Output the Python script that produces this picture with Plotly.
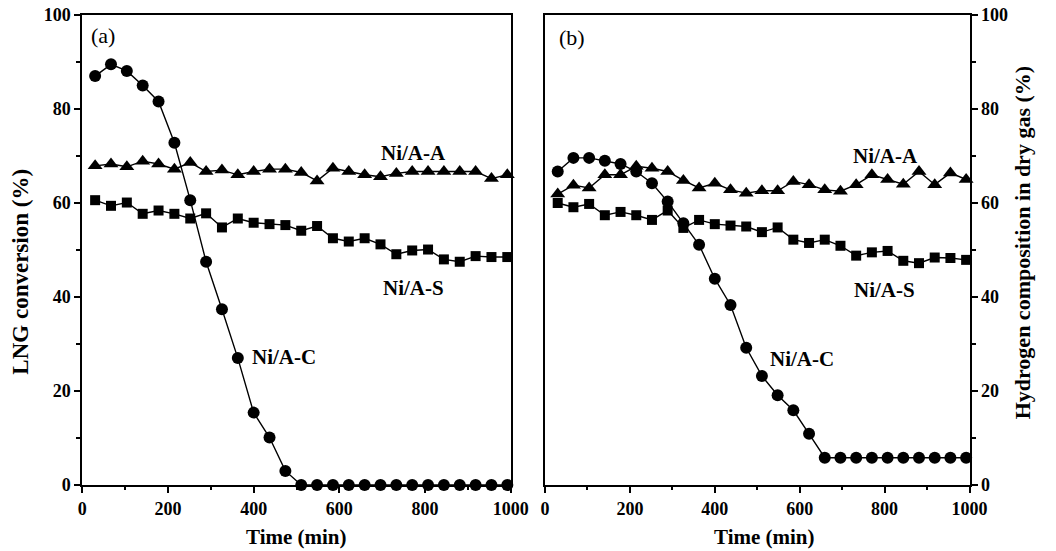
import plotly.graph_objects as go

# ---- data ----
time_min = [30, 67, 104, 141, 178, 215, 252, 289, 326, 363, 400, 437, 474, 511,
            548, 585, 622, 659, 696, 733, 770, 807, 844, 881, 918, 955, 992]

# (a) LNG conversion (%)
a_NiAC = [87.0, 89.5, 88.1, 85.0, 81.6, 72.8, 60.6, 47.5, 37.4, 27.0, 15.4, 10.1, 3.0, 0,
          0, 0, 0, 0, 0, 0, 0, 0, 0, 0, 0, 0, 0]
a_NiAA = [67.9, 68.3, 67.7, 68.9, 68.3, 67.2, 68.6, 66.7, 67.0, 66.0, 66.7, 67.2, 67.2, 66.5,
          64.7, 67.4, 66.7, 66.0, 65.6, 66.3, 66.7, 66.7, 66.7, 66.7, 66.7, 65.2, 66.0]
a_NiAS = [60.6, 59.4, 60.1, 57.7, 58.4, 57.7, 56.7, 57.8, 54.8, 56.7, 55.8, 55.5, 55.3, 54.1,
          55.1, 52.5, 51.8, 52.5, 51.2, 49.1, 49.9, 50.1, 48.0, 47.5, 48.7, 48.5, 48.5]

# (b) Hydrogen composition in dry gas (%)
b_NiAC = [66.7, 69.6, 69.6, 69.0, 68.3, 66.7, 64.2, 60.3, 55.7, 51.1, 43.9, 38.3, 29.2, 23.2,
          19.1, 15.9, 10.9, 5.8, 5.8, 5.8, 5.8, 5.8, 5.8, 5.8, 5.8, 5.8, 5.8]
b_NiAA = [61.9, 63.8, 63.2, 66.0, 66.0, 67.8, 67.4, 66.7, 64.8, 63.2, 64.2, 62.8, 62.1, 62.6,
          62.6, 64.6, 63.9, 62.8, 62.5, 63.9, 66.0, 65.0, 64.0, 66.7, 63.9, 66.4, 65.0]
b_NiAS = [60.0, 59.1, 59.8, 57.4, 58.1, 57.4, 56.4, 58.4, 54.7, 56.4, 55.5, 55.2, 55.0, 53.8,
          54.8, 52.2, 51.5, 52.2, 50.9, 48.8, 49.5, 49.8, 47.7, 47.2, 48.4, 48.3, 47.9]

x_ticks = [0, 200, 400, 600, 800, 1000]
y_ticks = [0, 20, 40, 60, 80, 100]

FONT = "Liberation Serif"
W, H = 1056, 551
TOP, BOT = 15, 485          # plot area top / bottom in pixels
PH = BOT - TOP

fig = go.Figure()

def add_series(y, sym, size, xa, ya):
    fig.add_trace(go.Scatter(
        x=time_min, y=y, mode="lines+markers", xaxis=xa, yaxis=ya,
        line=dict(color="black", width=1.4),
        marker=dict(symbol=sym, size=size, color="black"),
        cliponaxis=False, showlegend=False))

add_series(a_NiAA, "triangle-up", 13, "x", "y")
add_series(a_NiAS, "square", 10, "x", "y")
add_series(a_NiAC, "circle", 12, "x", "y")
add_series(b_NiAA, "triangle-up", 13, "x2", "y2")
add_series(b_NiAS, "square", 10, "x2", "y2")
add_series(b_NiAC, "circle", 12, "x2", "y2")

tickfont = dict(family=FONT, size=18, color="black", weight="bold")
common_x = dict(range=[0, 1000], tickvals=x_ticks, showline=True, linecolor="black",
                linewidth=2, mirror=True, ticks="outside", ticklen=6, tickwidth=1.5,
                tickcolor="black", showgrid=False, zeroline=False, tickfont=tickfont,
                minor=dict(tickvals=[100, 300, 500, 700, 900], ticks="outside",
                           ticklen=3, tickwidth=1.5, tickcolor="black", showgrid=False))
common_y = dict(range=[0, 100], tickvals=y_ticks, showline=True, linecolor="black",
                linewidth=2, mirror=True, ticks="outside", ticklen=6, tickwidth=1.5,
                tickcolor="black", showgrid=False, zeroline=False, tickfont=tickfont,
                minor=dict(tickvals=[10, 30, 50, 70, 90], ticks="outside",
                           ticklen=4, tickwidth=1.5, tickcolor="black", showgrid=False))

fig.update_layout(
    width=W, height=H, autosize=False,
    margin=dict(l=0, r=0, t=TOP, b=H - BOT),
    paper_bgcolor="white", plot_bgcolor="white",
    xaxis=dict(domain=[79 / W, 517 / W], anchor="y", **common_x),
    yaxis=dict(domain=[0, 1], anchor="x", **common_y),
    xaxis2=dict(domain=[552 / W, 986 / W], anchor="y2", **common_x),
    yaxis2=dict(domain=[0, 1], anchor="x2", side="right", **common_y),
)

ann = []
def lab(text, x, y, xref, yref, size=21, bold=True, xanchor="center"):
    ann.append(dict(text=f"<b>{text}</b>" if bold else text, x=x, y=y, xref=xref, yref=yref,
                    showarrow=False, xanchor=xanchor, yanchor="middle",
                    font=dict(family=FONT, size=size, color="black")))

lab("Ni/A-A", 772, 70.6, "x", "y")
lab("Ni/A-S", 772, 41.9, "x", "y")
lab("Ni/A-C", 391, 27.3, "x", "y", xanchor="left")
lab("(a)", 48, 95.7, "x", "y", size=22, bold=False)
lab("Ni/A-A", 802, 70.1, "x2", "y2")
lab("Ni/A-S", 800, 41.5, "x2", "y2")
lab("Ni/A-C", 525, 26.9, "x2", "y2", xanchor="left")
lab("(b)", 64, 95.2, "x2", "y2", size=22, bold=False)

def py(p):  # pixel row -> paper fraction of plot area
    return (BOT - p) / PH

ttl = dict(family=FONT, size=21, color="black")
ann.append(dict(text="<b>LNG conversion (%)</b>", x=15 / W, y=py(272), xref="paper",
                yref="paper", yanchor="middle", xanchor="center", showarrow=False, textangle=-90,
                font=dict(family=FONT, size=23, color="black")))
ann.append(dict(text="<b>Hydrogen composition in dry gas (%)</b>", x=1040 / W, y=py(243),
                xref="paper", yref="paper", yanchor="middle", xanchor="center", showarrow=False,
                textangle=-90, font=dict(family=FONT, size=22, color="black")))
ann.append(dict(text="<b>Time (min)</b>", x=298 / W, y=py(537), xref="paper", yref="paper",
                yanchor="middle", xanchor="center", showarrow=False, font=ttl))
ann.append(dict(text="<b>Time (min)</b>", x=776 / W, y=py(537), xref="paper", yref="paper",
                yanchor="middle", xanchor="center", showarrow=False, font=ttl))

fig.update_layout(annotations=ann)
fig.write_html("out.html")
